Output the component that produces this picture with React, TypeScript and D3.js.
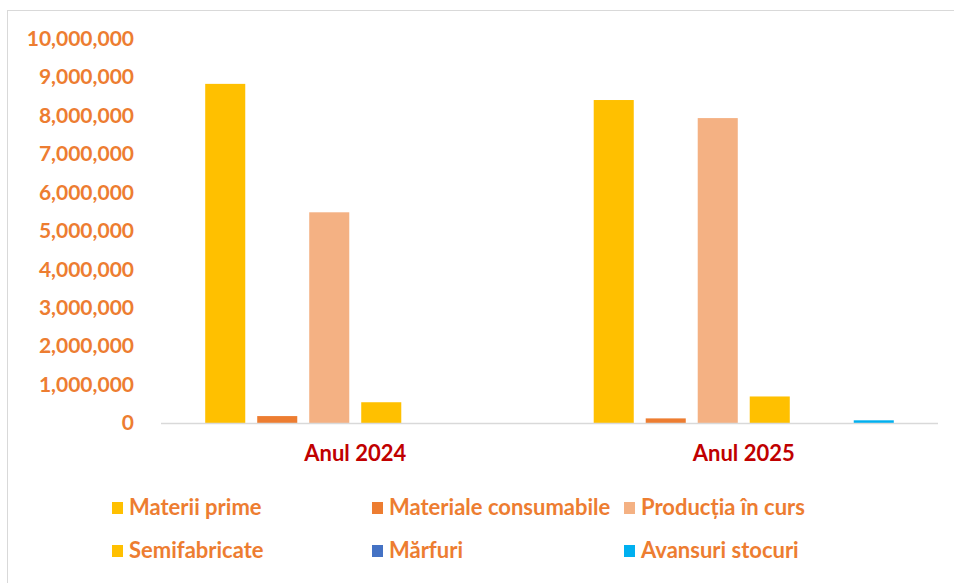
import { useEffect, useRef } from "react";
import * as d3 from "d3";

const categories = ["Anul 2024", "Anul 2025"];
const seriesNames = [
  "Materii prime",
  "Materiale consumabile",
  "Producția în curs",
  "Semifabricate",
  "Mărfuri",
  "Avansuri stocuri",
];
const seriesColors = ["#FFC000", "#ED7D31", "#F4B183", "#FFC000", "#4472C4", "#00B0F0"];
const values2024 = [8820000, 180000, 5480000, 540000, 0, 0];
const values2025 = [8400000, 120000, 7930000, 690000, 0, 70000];
const yTicks = [0, 1000000, 2000000, 3000000, 4000000, 5000000, 6000000, 7000000, 8000000, 9000000, 10000000];

const W = 954;
const H = 583;
const FONT = "Lato, 'Open Sans', sans-serif";

export default function App() {
  const ref = useRef<SVGSVGElement>(null);

  useEffect(() => {
    document.body.style.margin = "0";
    if (!ref.current) return;
    const svg = d3.select(ref.current);
    svg.selectAll("*").remove();

    svg.append("rect").attr("width", W).attr("height", H).attr("fill", "#fff");

    // chart border
    svg
      .append("rect")
      .attr("x", 7.5)
      .attr("y", 10.5)
      .attr("width", W + 20)
      .attr("height", H + 20)
      .attr("fill", "none")
      .attr("stroke", "#d9d9d9");

    const plotLeft = 161;
    const plotRight = 938;
    const y = d3.scaleLinear().domain([0, 10000000]).range([423, 38.5]);

    const x0 = d3.scaleBand<string>().domain(categories).range([plotLeft, plotRight]);
    const x1 = d3
      .scaleBand<string>()
      .domain(seriesNames)
      .range([0, x0.bandwidth()])
      .paddingInner(0.23)
      .paddingOuter(0.85);

    const rows = [values2024, values2025];

    const g = svg.append("g");
    categories.forEach((cat, ci) => {
      g.selectAll(`.bar-${ci}`)
        .data(rows[ci])
        .enter()
        .append("rect")
        .attr("x", (_, i) => (x0(cat) ?? 0) + (x1(seriesNames[i]) ?? 0))
        .attr("y", (d) => y(d))
        .attr("width", x1.bandwidth())
        .attr("height", (d) => y(0) - y(d))
        .attr("fill", (_, i) => seriesColors[i]);
    });

    // baseline
    svg
      .append("line")
      .attr("x1", plotLeft)
      .attr("x2", plotRight)
      .attr("y1", y(0) + 0.5)
      .attr("y2", y(0) + 0.5)
      .attr("stroke", "#d9d9d9")
      .attr("stroke-width", 1.5);

    // y labels
    svg
      .append("g")
      .selectAll("text")
      .data(yTicks)
      .enter()
      .append("text")
      .attr("x", 134)
      .attr("y", (d) => y(d))
      .attr("dy", "0.35em")
      .attr("text-anchor", "end")
      .attr("font-family", FONT)
      .attr("font-weight", "bold")
      .attr("font-size", 21)
      .attr("fill", "#ED7D31")
      .text((d) => d3.format(",")(d));

    // x labels
    svg
      .append("g")
      .selectAll("text")
      .data(categories)
      .enter()
      .append("text")
      .attr("x", (d) => (x0(d) ?? 0) + x0.bandwidth() / 2)
      .attr("y", 453)
      .attr("dy", "0.35em")
      .attr("text-anchor", "middle")
      .attr("font-family", FONT)
      .attr("font-weight", "bold")
      .attr("font-size", 22)
      .attr("fill", "#C00000")
      .text((d) => d);

    // legend
    const legendX = [112, 372, 624];
    const legendY = [507, 550];
    const lg = svg
      .append("g")
      .selectAll("g")
      .data(seriesNames)
      .enter()
      .append("g")
      .attr("transform", (_, i) => `translate(${legendX[i % 3]},${legendY[Math.floor(i / 3)]})`);
    lg.append("rect")
      .attr("x", 0)
      .attr("y", -5)
      .attr("width", 11)
      .attr("height", 12)
      .attr("fill", (_, i) => seriesColors[i]);
    lg.append("text")
      .attr("x", 17)
      .attr("y", 0)
      .attr("dy", "0.35em")
      .attr("font-family", FONT)
      .attr("font-weight", "bold")
      .attr("font-size", 22)
      .attr("fill", "#ED7D31")
      .text((d) => d);
  }, []);

  return <svg ref={ref} width={W} height={H} style={{ display: "block" }}></svg>;
}
